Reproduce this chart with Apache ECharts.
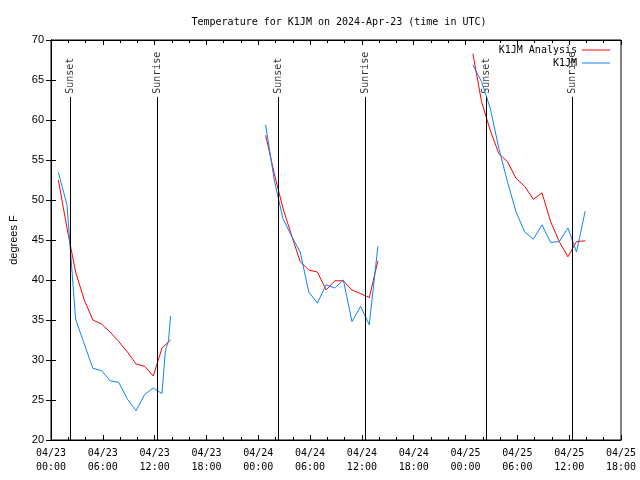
<!DOCTYPE html>
<html>
<head>
<meta charset="utf-8">
<script src="https://cdn.jsdelivr.net/npm/echarts@6/dist/echarts.min.js"></script>
<style>html,body{margin:0;padding:0;background:#fff}#c{width:640px;height:480px}</style>
</head>
<body>
<div id="c"></div>
<script>
// hours since 04/23 00:00 UTC
const analysisTimes = [0.85,1.85,2.85,3.85,4.85,5.85,6.85,7.85,8.85,9.85,10.85,11.85,12.85,13.85, null,
  24.85,25.85,26.85,27.85,28.85,29.85,30.85,31.85,32.85,33.85,34.85,35.85,36.85,37.85, null,
  48.85,49.85,50.85,51.85,52.85,53.85,54.85,55.85,56.85,57.85,58.85,59.85,60.85,61.85];
const analysisTemps = [52.5,46.5,41.0,37.5,35.0,34.5,33.5,32.3,31.0,29.5,29.2,28.0,31.5,32.5, null,
  58.1,53.3,49.0,45.6,42.3,41.25,41.0,38.75,39.9,39.9,38.75,38.3,37.8,42.4, null,
  68.3,62.3,58.75,55.8,54.8,52.7,51.7,50.1,50.9,47.3,44.8,42.9,44.8,44.9];
const obsTimes = [0.85,1.85,2.85,3.85,4.85,5.85,6.85,7.85,8.85,9.85,10.85,11.85,12.85,13.25,13.6,13.85, null,
  24.85,25.85,26.85,27.85,28.85,29.85,30.85,31.85,32.85,33.85,34.85,35.85,36.85,37.85, null,
  48.85,49.85,50.85,51.85,52.85,53.85,54.85,55.85,56.85,57.85,58.85,59.85,60.85,61.85];
const obsTemps = [53.46,49.4,35.1,32.0,28.96,28.67,27.4,27.2,25.1,23.67,25.7,26.5,25.8,31.2,32.4,35.5, null,
  59.4,52.5,47.7,45.5,43.5,38.5,37.1,39.4,39.0,40.0,34.8,36.7,34.4,44.2, null,
  66.9,64.8,61.5,56.5,52.3,48.5,46.0,45.1,46.9,44.7,44.8,46.5,43.5,48.6];
const sunsetTimes = [2.22, 26.37, 50.40];
const sunriseTimes = [12.34, 36.37, 60.40];
const sunLineTop = 62.9;
const yMin = 20, yMax = 70, yStep = 5;
const xMin = 0, xMax = 66, xStep = 6;
const dayLabels = ['04/23','04/24','04/25'];

const mono = 'DejaVu Sans Mono';
const sans = 'Liberation Sans';

function pairs(ts, vs){
  return ts.map((t,i)=> t === null ? '-' : [t, vs[i]]);
}
function fmtX(v){
  const d = Math.floor(v/24);
  const h = v - d*24;
  const lbl = d < dayLabels.length ? dayLabels[d] : '04/' + (23+d);
  return lbl + '\n' + String(h).padStart(2,'0') + ':00';
}
const sunMarks = [];
sunsetTimes.forEach(t => sunMarks.push({value:[t, sunLineTop], name:'Sunset'}));
sunriseTimes.forEach(t => sunMarks.push({value:[t, sunLineTop], name:'Sunrise'}));
const sunLines = sunsetTimes.concat(sunriseTimes).map(t => [{coord:[t, yMin]},{coord:[t, sunLineTop]}]);

const chart = echarts.init(document.getElementById('c'), null, {renderer:'canvas'});
chart.setOption({
  animation:false,
  backgroundColor:'#fff',
  title:{text:'Temperature for K1JM on 2024-Apr-23 (time in UTC)', left:334, textAlign:'center', top:12,
    textStyle:{fontFamily:mono, fontSize:10, fontWeight:'normal', color:'#000'}},
  grid:{left:47, right:19, top:40, bottom:40, show:true, borderColor:'#000', borderWidth:1},
  legend:{orient:'vertical', right:30, top:45, padding:0, align:'right', icon:'rect', itemWidth:28, itemHeight:1, itemGap:3,
    textStyle:{fontFamily:mono, fontSize:10, color:'#000'},
    data:['K1JM Analysis','K1JM']},
  xAxis:[{type:'value', min:xMin, max:xMax, interval:xStep, position:'bottom',
    axisLine:{show:true, lineStyle:{color:'#000'}}, splitLine:{show:false},
    axisTick:{inside:true, length:5, lineStyle:{color:'#000'}},
    minorTick:{show:true, splitNumber:3, length:3, lineStyle:{color:'#000'}},
    axisLabel:{formatter:fmtX, fontFamily:mono, fontSize:10, color:'#000', lineHeight:14, margin:6}},
   {type:'value', min:xMin, max:xMax, interval:xStep, position:'top',
    axisLine:{show:true, lineStyle:{color:'#000'}}, splitLine:{show:false},
    axisTick:{inside:true, length:5, lineStyle:{color:'#000'}},
    minorTick:{show:true, splitNumber:3, length:3, lineStyle:{color:'#000'}},
    axisLabel:{show:false}}],
  yAxis:[{type:'value', min:yMin, max:yMax, interval:yStep, position:'left',
    name:'degrees F', nameLocation:'middle', nameGap:32, nameRotate:90,
    nameTextStyle:{fontFamily:sans, fontSize:11, color:'#000'},
    axisLine:{show:true, lineStyle:{color:'#000'}}, splitLine:{show:false},
    axisTick:{inside:true, length:5, lineStyle:{color:'#000'}},
    axisLabel:{fontFamily:sans, fontSize:11, color:'#000', margin:7}},
   {type:'value', min:yMin, max:yMax, interval:yStep, position:'right',
    axisLine:{show:true, lineStyle:{color:'#000'}}, splitLine:{show:false},
    axisTick:{inside:true, length:5, lineStyle:{color:'#000'}},
    axisLabel:{show:false}}],
  series:[
    {name:'K1JM Analysis', type:'line', xAxisIndex:0, yAxisIndex:0, data:pairs(analysisTimes, analysisTemps),
     symbol:'none', connectNulls:false, lineStyle:{color:'#ff0000', width:1}, itemStyle:{color:'#ff0000'}, z:3},
    {name:'K1JM', type:'line', xAxisIndex:0, yAxisIndex:0, data:pairs(obsTimes, obsTemps),
     symbol:'none', connectNulls:false, lineStyle:{color:'#0a84ff', width:1}, itemStyle:{color:'#0a84ff'}, z:4},
    {name:'sun', type:'scatter', xAxisIndex:0, yAxisIndex:0, data:sunMarks, symbolSize:0, silent:true, z:2,
     label:{show:true, formatter:'{b}', position:'top', distance:3, rotate:90, align:'left', verticalAlign:'middle',
       fontFamily:mono, fontSize:10, color:'#000'},
     markLine:{silent:true, symbol:['none','none'], label:{show:false}, animation:false,
       lineStyle:{color:'#000', type:'solid', width:1}, data:sunLines}}
  ]
});
</script>
</body>
</html>
